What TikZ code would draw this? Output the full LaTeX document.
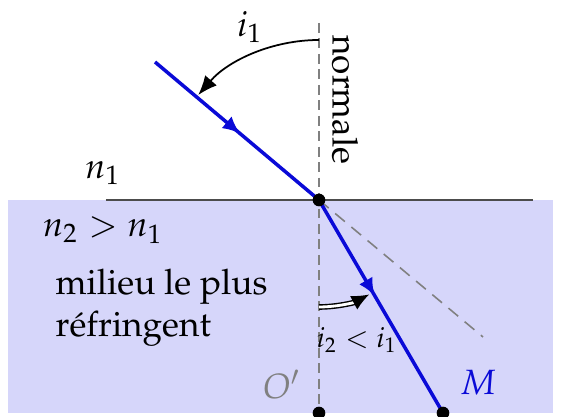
\documentclass[tikz,border=0pt]{standalone}
\usepackage[T1]{fontenc}
\usepackage{mathpazo}
\usetikzlibrary{arrows.meta,decorations.markings}
\definecolor{fondMilieu}{RGB}{214,214,250}
\definecolor{bleuRayon}{RGB}{10,10,215}
\tikzset{
  rayon/.style={draw=bleuRayon,line width=1pt,postaction={decorate},
    decoration={markings,mark=at position #1 with {\arrow{Latex[length=5pt,width=4.4pt]}}}},
  pointnoir/.style={circle,fill=black,inner sep=0pt,minimum size=3.6pt},
  normaleTrait/.style={gray,line width=0.45pt,dash pattern=on 2.8pt off 1.6pt},
  prolongTrait/.style={gray,line width=0.45pt,dash pattern=on 3.6pt off 2.4pt},
}
\begin{document}
\begin{tikzpicture}[>=latex]
    \useasboundingbox (-3.19,-2.17) rectangle (2.44,2.00);
    % milieu 2 et dioptre
    \fill[fondMilieu] (-3.11,0) rectangle (2.34,-2.13);
    \coordinate (G) at (-2.13,0);
    \coordinate (D) at (2.14,0);
    \draw[black!70,line width=0.5pt] (G) -- (D);

    % points
    \coordinate (O) at (0,0);
    \coordinate (A) at (-1.64,1.38);
    \coordinate (M) at (1.24,-2.13);
    \coordinate (Op) at (0,-2.13);
    \coordinate (Nh) at (0,1.77);
    \coordinate (P) at (1.64,-1.37);

    % normale et prolongement
    \draw[normaleTrait] (Nh) -- (Op);
    \draw[prolongTrait] (O) -- (P);

    % rayons
    \draw[rayon=0.52] (A) -- (O);
    \draw[rayon=0.45] (O) -- (M);

    % angles
    \coordinate (I1) at (0,1.6);
    \draw[line width=0.5pt,-{Latex[length=5.5pt,width=4.4pt]}] (I1) arc[start angle=90,end angle=139,radius=1.6];
    \coordinate (I2) at (0,-1.07);
    \draw[line width=0.4pt,double,double distance=0.8pt,-{Latex[length=5pt,width=4.4pt]}] (I2) arc[start angle=-90,end angle=-62,radius=1.07];

    \node[pointnoir] (dotO) at (O) {};
    \node[pointnoir] (dotOp) at (Op) {};
    \node[pointnoir] (dotM) at (M) {};

    % textes
    \node (labI1) at (-0.69,1.73) {$i_1$};
    \node[rotate=-90] (labNormale) at (0.26,1.00) {normale};
    \node (labN1) at (-2.16,0.27) {$n_1$};
    \node (labN2) at (-2.16,-0.30) {$n_2>n_1$};
    \node[anchor=north west,align=left,inner sep=0pt] (labMilieu) at (-2.64,-0.68) {milieu le plus\\réfringent};
    \node[text=gray] (labOp) at (-0.37,-1.85) {$O'$};
    \node[text=bleuRayon] (labM) at (1.59,-1.83) {$M$};
    \node[font=\footnotesize] (labI2) at (0.38,-1.40) {$i_2<i_1$};
\end{tikzpicture}
\end{document}
